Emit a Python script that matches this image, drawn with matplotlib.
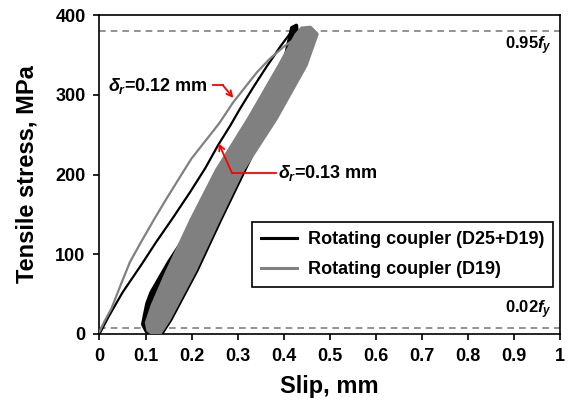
import matplotlib
matplotlib.use("Agg")
import matplotlib.pyplot as plt

plt.rcParams['font.family'] = ['Liberation Sans', 'DejaVu Sans']
plt.rcParams['font.weight'] = 'bold'
plt.rcParams['mathtext.fontset'] = 'custom'
plt.rcParams['mathtext.rm'] = 'Liberation Sans:bold'
plt.rcParams['mathtext.it'] = 'Liberation Sans:bold:italic'
plt.rcParams['mathtext.bf'] = 'Liberation Sans:bold'

# yield stress levels used as load limits
fy = 400
upper_level = 0.95 * fy
lower_level = 0.02 * fy

# first loading branch, coupler with D25+D19 bars
d25_init_slip = [0, 0.02, 0.05, 0.09, 0.124, 0.16, 0.197, 0.23, 0.258, 0.285, 0.305, 0.335,
                 0.363, 0.395, 0.425]
d25_init_stress = [0, 22, 52, 86, 116, 146, 178, 208, 237, 262, 282, 310, 335, 362, 385]

# first loading branch, coupler with D19 bars
d19_init_slip = [0, 0.01, 0.026, 0.045, 0.066, 0.09, 0.12, 0.146, 0.175, 0.2, 0.23, 0.26,
                 0.29, 0.32, 0.342, 0.37, 0.4, 0.43, 0.455]
d19_init_stress = [3, 15, 32, 60, 90, 115, 145, 170, 197, 220, 242, 264, 290, 312, 328,
                   345, 360, 372, 382]

# envelope of the repeated cycles (left side going up, right side coming down)
d25_cyc_left_slip = [0.125, 0.102, 0.094, 0.098, 0.103, 0.112, 0.128, 0.15, 0.21, 0.265,
                     0.335, 0.40, 0.418]
d25_cyc_left_stress = [0, 3, 12, 24, 38, 52, 68, 90, 143, 205, 270, 337, 384]
d25_cyc_right_slip = [0.428, 0.43, 0.415, 0.37, 0.315, 0.263, 0.212, 0.155, 0.137, 0.125]
d25_cyc_right_stress = [387, 376, 337, 270, 205, 143, 80, 18, 2, 0]

d19_cyc_left_slip = [0.118, 0.106, 0.103, 0.115, 0.145, 0.2, 0.255, 0.325, 0.392, 0.428, 0.44]
d19_cyc_left_stress = [0, 5, 14, 35, 75, 143, 205, 270, 337, 375, 383]
d19_cyc_right_slip = [0.458, 0.472, 0.448, 0.383, 0.31, 0.258, 0.207, 0.15, 0.132]
d19_cyc_right_stress = [384, 376, 337, 270, 205, 143, 80, 18, 2]

x_ticks = [0, 0.1, 0.2, 0.3, 0.4, 0.5, 0.6, 0.7, 0.8, 0.9, 1]
x_tick_labels = ['0', '0.1', '0.2', '0.3', '0.4', '0.5', '0.6', '0.7', '0.8', '0.9', '1']
y_ticks = [0, 100, 200, 300, 400]

black = '#000000'
gray = '#808080'
red = '#ff0000'

fig = plt.figure(figsize=(5.69, 4.0), dpi=100)
ax = fig.add_axes([99.5 / 569, 66 / 400, 460 / 569, 319 / 400])

# limit lines
ax.axhline(upper_level, color=gray, lw=1.2, ls=(0, (4, 3)), zorder=1)
ax.axhline(lower_level, color=gray, lw=1.2, ls=(0, (4, 3)), zorder=1)

# cyclic bands
ax.fill(d25_cyc_left_slip + d25_cyc_right_slip, d25_cyc_left_stress + d25_cyc_right_stress,
        color=black, lw=2.5, ec=black, joinstyle='round', zorder=2)
ax.fill(d19_cyc_left_slip + d19_cyc_right_slip, d19_cyc_left_stress + d19_cyc_right_stress,
        color=gray, lw=3, ec=gray, joinstyle='round', zorder=3)

# first loading branches
ax.plot(d25_init_slip, d25_init_stress, color=black, lw=1.6, zorder=4,
        label='Rotating coupler (D25+D19)')
ax.plot(d19_init_slip, d19_init_stress, color=gray, lw=1.6, zorder=4,
        label='Rotating coupler (D19)')

# residual slip notes
ax.text(0.018, 311, r'$\delta_r$=0.12 mm', fontsize=13, fontweight='bold', va='center', ha='left')
ax.plot([0.246, 0.268], [312, 312], color=red, lw=1.3, zorder=5)
ax.annotate('', xy=(0.291, 296), xytext=(0.268, 312),
            arrowprops=dict(arrowstyle='->', color=red, lw=1.3, shrinkA=0, shrinkB=0), zorder=5)

ax.text(0.387, 202, r'$\delta_r$=0.13 mm', fontsize=13, fontweight='bold', va='center', ha='left')
ax.plot([0.383, 0.288], [202, 202], color=red, lw=1.3, zorder=5)
ax.annotate('', xy=(0.259, 239), xytext=(0.288, 202),
            arrowprops=dict(arrowstyle='->', color=red, lw=1.3, shrinkA=0, shrinkB=0), zorder=5)

ax.text(0.983, 362, r'0.95$f_y$', fontsize=12, fontweight='bold', ha='right', va='center')
ax.text(0.983, 30, r'0.02$f_y$', fontsize=12, fontweight='bold', ha='right', va='center')

ax.set_xlim(0, 1)
ax.set_ylim(0, 400)
ax.set_xticks(x_ticks)
ax.set_xticklabels(x_tick_labels)
ax.set_yticks(y_ticks)
ax.tick_params(axis='both', direction='out', length=4, width=1.2, labelsize=13, pad=6)
for lbl in ax.get_xticklabels() + ax.get_yticklabels():
    lbl.set_fontweight('bold')
for s in ax.spines.values():
    s.set_linewidth(1.2)

ax.set_xlabel('Slip, mm', fontsize=17, fontweight='bold', labelpad=7)
ax.set_ylabel('Tensile stress, MPa', fontsize=17, fontweight='bold', labelpad=12)

leg = ax.legend(loc='lower right', bbox_to_anchor=(0.986, 0.147), fontsize=13,
                frameon=True, fancybox=False, edgecolor=black, framealpha=1,
                handlelength=2.0, handletextpad=0.6, labelspacing=0.7, borderpad=0.5,
                borderaxespad=0)
leg.get_frame().set_linewidth(1.2)
for line in leg.get_lines():
    line.set_linewidth(2.2)
for t in leg.get_texts():
    t.set_fontweight('bold')

fig.savefig('out.png', dpi=100)
